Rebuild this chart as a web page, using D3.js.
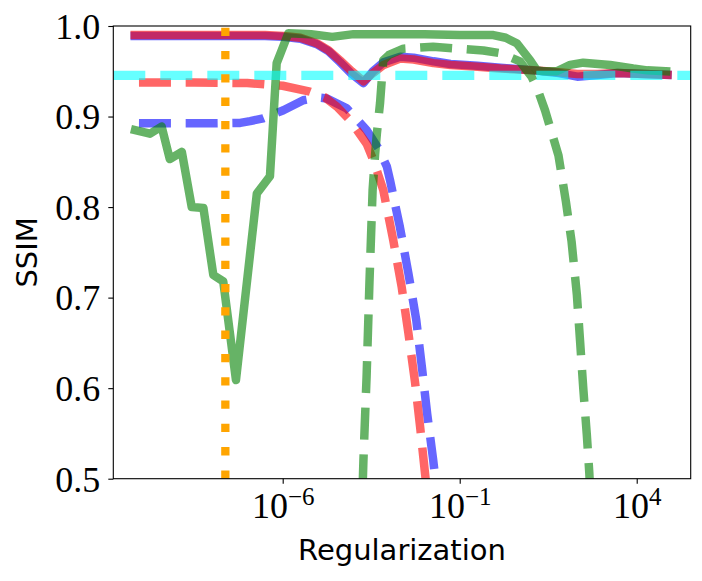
<!DOCTYPE html>
<html><head><meta charset="utf-8">
<script src="https://cdn.jsdelivr.net/npm/d3@7"></script>
<style>body{margin:0;background:#fff}</style>
</head><body>
<svg id="c" width="702" height="581"></svg>
<script>
// ---- data (x given as log10 of regularization) ----
const redSolidExp = [-10.18,-9,-8,-7,-6.5,-5.98,-5.5,-5.04,-4.7,-4.38,-4.05,-3.72,-3.45,-3.15,-2.68,-2.3,-1.74,-1.26,-0.5,0.15,1.09,1.8,2.32,2.9,3.46,4.2,4.87];
const redSolidVal = [0.990,0.990,0.990,0.990,0.990,0.989,0.987,0.981,0.973,0.962,0.950,0.939,0.948,0.957,0.964,0.963,0.959,0.957,0.955,0.953,0.951,0.949,0.947,0.947,0.948,0.947,0.946];
const blueSolidExp = redSolidExp;
const blueSolidVal = [0.989,0.989,0.989,0.989,0.989,0.988,0.986,0.980,0.972,0.960,0.947,0.937,0.950,0.960,0.966,0.965,0.961,0.958,0.956,0.954,0.951,0.948,0.944,0.946,0.948,0.947,0.946];
const redDashExp = [-10.06,-8.5,-7,-6,-5.23,-4.8,-4.47,-4.10,-3.63,-3.44,-3.16,-2.88,-2.64,-2.45,-2.26,-2.12,-1.98,-1.85];
const redDashVal = [0.9375,0.9375,0.937,0.934,0.9275,0.921,0.911,0.896,0.870,0.852,0.819,0.764,0.712,0.661,0.606,0.558,0.506,0.46];
const blueDashExp = [-10.06,-9,-8,-7.2,-6.92,-6.55,-5.98,-5.42,-5.0,-4.76,-4.19,-3.63,-3.3,-3.06,-2.97,-2.69,-2.45,-2.23,-2.07,-1.92,-1.75,-1.6];
const blueDashVal = [0.8926,0.8925,0.8925,0.893,0.895,0.898,0.907,0.918,0.921,0.920,0.909,0.885,0.865,0.845,0.830,0.778,0.727,0.676,0.624,0.572,0.521,0.47];
const greenSolidExp = [-10.17,-9.75,-9.42,-9.19,-8.85,-8.57,-8.24,-7.96,-7.68,-7.32,-6.73,-6.36,-6.17,-5.84,-5.2,-4.6,-4.0,-3,-2,-1,-0.05,0.3,0.61,0.99,1.18,1.36,1.74,2.12,2.49,3.25,3.90,4.3,4.83];
const greenSolidVal = [0.885,0.881,0.889,0.853,0.861,0.800,0.799,0.725,0.718,0.609,0.815,0.834,0.959,0.992,0.991,0.988,0.991,0.991,0.991,0.990,0.990,0.987,0.981,0.962,0.951,0.950,0.950,0.957,0.9595,0.957,0.953,0.951,0.950];
const greenDashExp = [-3.78,-3.72,-3.63,-3.55,-3.46,-3.39,-3.34,-3.25,-3.16,-3.0,-2.59,-1.75,-0.33,0.14,0.70,1.03,1.20,1.41,1.79,2.0,2.16,2.31,2.40,2.49,2.59,2.66,2.72];
const greenDashVal = [0.44,0.52,0.613,0.716,0.819,0.858,0.881,0.915,0.962,0.968,0.975,0.977,0.973,0.970,0.961,0.944,0.93,0.907,0.857,0.806,0.762,0.703,0.652,0.60,0.549,0.507,0.46];
const refLineVal = 0.9455;     // cyan horizontal reference
const markerExp = -7.62;       // orange vertical marker
const xTickExps = [-6, -1, 4];
const yTicks = [0.5, 0.6, 0.7, 0.8, 0.9, 1.0];
const xLabel = "Regularization";
const yLabel = "SSIM";

// ---- layout ----
const L = 113.3, R = 690.7, T = 26, B = 478.7;
const svg = d3.select("#c");
const x = d3.scaleLog().domain([Math.pow(10,-10.785), Math.pow(10,5.525)]).range([L, R]);
const y = d3.scaleLinear().domain([0.5, 1.0]).range([B, T]);

svg.append("defs").append("clipPath").attr("id","clip")
  .append("rect").attr("x",L).attr("y",T).attr("width",R-L).attr("height",B-T);

const plot = svg.append("g").attr("clip-path","url(#clip)");
const line = d3.line().x(d => x(Math.pow(10, d[0]))).y(d => y(d[1]));
const zip = (a,b) => a.map((v,i) => [v, b[i]]);

const series = [
  {e: blueSolidExp, v: blueSolidVal, c: "#0000ff", dash: null},
  {e: blueDashExp, v: blueDashVal, c: "#0000ff", dash: "32,14.7"},
  {e: redSolidExp, v: redSolidVal, c: "#ff0000", dash: null},
  {e: redDashExp, v: redDashVal, c: "#ff0000", dash: "32,14.7"},
  {e: greenSolidExp, v: greenSolidVal, c: "#008000", dash: null},
  {e: greenDashExp, v: greenDashVal, c: "#008000", dash: "32,14.7"}
];
series.forEach(s => {
  plot.append("path").datum(zip(s.e, s.v))
    .attr("d", line).attr("fill","none")
    .attr("stroke", s.c).attr("stroke-opacity", 0.6)
    .attr("stroke-width", 8.5)
    .attr("stroke-linejoin","round")
    .attr("stroke-linecap", s.dash ? "butt" : "square")
    .attr("stroke-dasharray", s.dash);
});

// cyan horizontal
plot.append("line")
  .attr("x1", x(x.domain()[0])).attr("x2", x(x.domain()[1]))
  .attr("y1", y(refLineVal)).attr("y2", y(refLineVal))
  .attr("stroke","#00ffff").attr("stroke-opacity",0.6)
  .attr("stroke-width",9.3).attr("stroke-dasharray","32,15");

// orange vertical dotted (drawn bottom to top)
plot.append("line")
  .attr("x1", x(Math.pow(10,markerExp))).attr("x2", x(Math.pow(10,markerExp)))
  .attr("y1", y(0.5)).attr("y2", y(1.0))
  .attr("stroke","#ffa500").attr("stroke-width",8.3)
  .attr("stroke-dasharray","8.3,15");

// frame
svg.append("rect").attr("x",L).attr("y",T).attr("width",R-L).attr("height",B-T)
  .attr("fill","none").attr("stroke","#000").attr("stroke-width",1.1);

// axes
const xAxis = svg.append("g").attr("transform",`translate(0,${B})`)
  .call(d3.axisBottom(x).tickValues(xTickExps.map(e => Math.pow(10,e))).tickFormat("").tickSizeOuter(0).tickSize(5));
xAxis.select(".domain").remove();
xAxis.selectAll(".tick line").attr("stroke","#000").attr("stroke-width",1.1);
xAxis.selectAll(".tick").each(function(d, i) {
  const t = d3.select(this).append("text")
    .attr("y", 39.6).attr("fill","#000")
    .attr("text-anchor","middle")
    .style("font-family","'Liberation Serif', serif").style("font-size","36px");
  t.append("tspan").text("10");
  t.append("tspan").attr("dy",-13).style("font-size","25px").text("\u2212".repeat(xTickExps[i] < 0 ? 1 : 0) + Math.abs(xTickExps[i]));
});

const yAxis = svg.append("g").attr("transform",`translate(${L},0)`)
  .call(d3.axisLeft(y).tickValues(yTicks).tickFormat(d3.format(".1f")).tickSizeOuter(0).tickSize(5).tickPadding(8));
yAxis.select(".domain").remove();
yAxis.selectAll(".tick line").attr("stroke","#000").attr("stroke-width",1.1);
yAxis.selectAll(".tick text").attr("fill","#000").attr("dy", null).attr("y", 12.3)
  .style("font-family","'Liberation Serif', serif").style("font-size","36px");

svg.append("text").attr("x",(L+R)/2).attr("y",560).attr("text-anchor","middle")
  .style("font-family","'DejaVu Sans', sans-serif").style("font-size","29px").text(xLabel);
svg.append("text").attr("transform",`translate(37,${(T+B)/2}) rotate(-90)`).attr("text-anchor","middle")
  .style("font-family","'DejaVu Sans', sans-serif").style("font-size","29px").text(yLabel);
</script>
</body></html>
